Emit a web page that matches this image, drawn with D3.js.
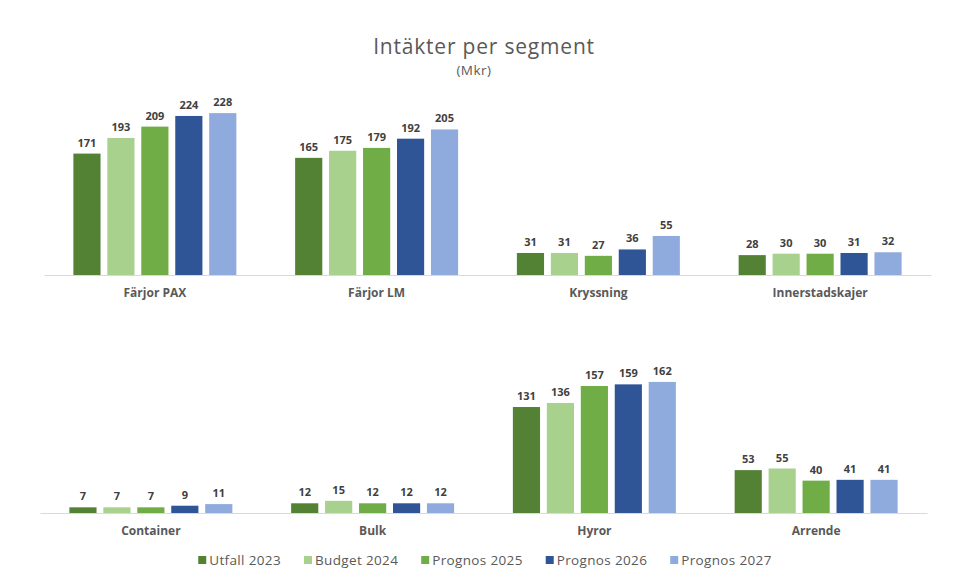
<!DOCTYPE html>
<html>
<head>
<meta charset="utf-8">
<script src="https://cdn.jsdelivr.net/npm/d3@7"></script>
<style>
  body { margin: 0; background: #fff; }
  text { font-family: "Open Sans", sans-serif; }
</style>
</head>
<body>
<div id="vis"></div>
<script>
// data
let seriesNames = ["Utfall 2023", "Budget 2024", "Prognos 2025", "Prognos 2026", "Prognos 2027"];
let seriesColors = ["#548235", "#a9d18e", "#70ad47", "#2f5597", "#8faadc"];
let categoriesTop = ["Färjor PAX", "Färjor LM", "Kryssning", "Innerstadskajer"];
let categoriesBottom = ["Container", "Bulk", "Hyror", "Arrende"];
// one value per category, top row first then bottom row
let utfall2023 = [171, 165, 31, 28, 7, 12, 131, 53];
let budget2024 = [193, 175, 31, 30, 7, 15, 136, 55];
let prognos2025 = [209, 179, 27, 30, 7, 12, 157, 40];
let prognos2026 = [224, 192, 36, 31, 9, 12, 159, 41];
let prognos2027 = [228, 205, 55, 32, 11, 12, 162, 41];

let width = 960, height = 583;
let allSeries = [utfall2023, budget2024, prognos2025, prognos2026, prognos2027];
let allCats = categoriesTop.concat(categoriesBottom);

let rows = allCats.map((c, i) => {
  let r = {cat: c};
  seriesNames.forEach((s, j) => r[s] = allSeries[j][i]);
  return r;
});

let svg = d3.select('#vis')
  .append('svg')
  .attr('width', width)
  .attr('height', height);

// title
svg.append('text')
  .attr('x', 484).attr('y', 54)
  .attr('text-anchor', 'middle')
  .style('font-size', '21px')
  .style('letter-spacing', '0.8px')
  .style('fill', '#595959')
  .text('Intäkter per segment');
svg.append('text')
  .attr('x', 474).attr('y', 75)
  .attr('text-anchor', 'middle')
  .style('font-size', '13.5px')
  .style('letter-spacing', '0.5px')
  .style('fill', '#595959')
  .text('(Mkr)');

// panel settings
let panels = [
  {cats: categoriesTop, data: rows.slice(0, 4), x0: 44, x1: 931, base: 275, max: 250, h: 177.5, labelY: 297},
  {cats: categoriesBottom, data: rows.slice(4), x0: 40, x1: 927, base: 513, max: 200, h: 161.8, labelY: 534.5}
];

panels.forEach(p => {
  let xScale0 = d3.scaleBand().domain(p.cats).range([p.x0, p.x1])
    .paddingInner(0.265).paddingOuter(0.1325);
  let xScale1 = d3.scaleBand().domain(seriesNames).range([0, xScale0.bandwidth()])
    .paddingInner(0.2).paddingOuter(0);
  let yScale = d3.scaleLinear().domain([0, p.max]).range([p.base, p.base - p.h]);

  let g = svg.append('g');

  let groups = g.selectAll('.grp')
    .data(p.data)
    .enter().append('g')
    .attr('class', 'grp')
    .attr('transform', d => `translate(${xScale0(d.cat)},0)`);

  seriesNames.forEach((s, j) => {
    groups.append('rect')
      .attr('x', xScale1(s))
      .attr('y', d => yScale(d[s]))
      .attr('width', xScale1.bandwidth())
      .attr('height', d => p.base - yScale(d[s]))
      .style('fill', seriesColors[j]);
    groups.append('text')
      .attr('x', xScale1(s) + xScale1.bandwidth() / 2)
      .attr('y', d => yScale(d[s]) - 7)
      .attr('text-anchor', 'middle')
      .style('font-size', '11px')
      .style('font-weight', 'bold')
      .style('fill', '#404040')
      .text(d => d[s]);
  });

  // axis line
  let xAxis = d3.axisBottom(xScale0).tickSize(0).tickSizeOuter(0).tickPadding(0);
  let ax = g.append('g')
    .attr('transform', `translate(0,${p.base})`)
    .call(xAxis);
  ax.select('.domain').attr('stroke', '#d9d9d9').attr('stroke-width', 1.2);
  ax.selectAll('.tick text')
    .attr('y', p.labelY - p.base)
    .attr('dy', 0)
    .style('font-family', '"Open Sans", sans-serif')
    .style('font-size', '12px')
    .style('font-weight', 'bold')
    .style('fill', '#595959');
});

// legend
let legend = svg.append('g').attr('transform', 'translate(0,560)');
let items = legend.selectAll('.item')
  .data(seriesNames)
  .enter().append('g')
  .attr('class', 'item');
items.append('rect')
  .attr('y', -4).attr('width', 8).attr('height', 8)
  .style('fill', (d, i) => seriesColors[i]);
items.append('text')
  .attr('x', 11).attr('y', 4.5)
  .style('font-size', '13.5px')
  .style('letter-spacing', '0.35px')
  .style('fill', '#595959')
  .text(d => d);
let xPos = 0, offsets = [];
items.each(function () {
  offsets.push(xPos);
  xPos += 11 + d3.select(this).select('text').node().getComputedTextLength() + 23;
});
let total = xPos - 23, start = 485 - total / 2;
items.attr('transform', (d, i) => `translate(${start + offsets[i]},0)`);
</script>
</body>
</html>
